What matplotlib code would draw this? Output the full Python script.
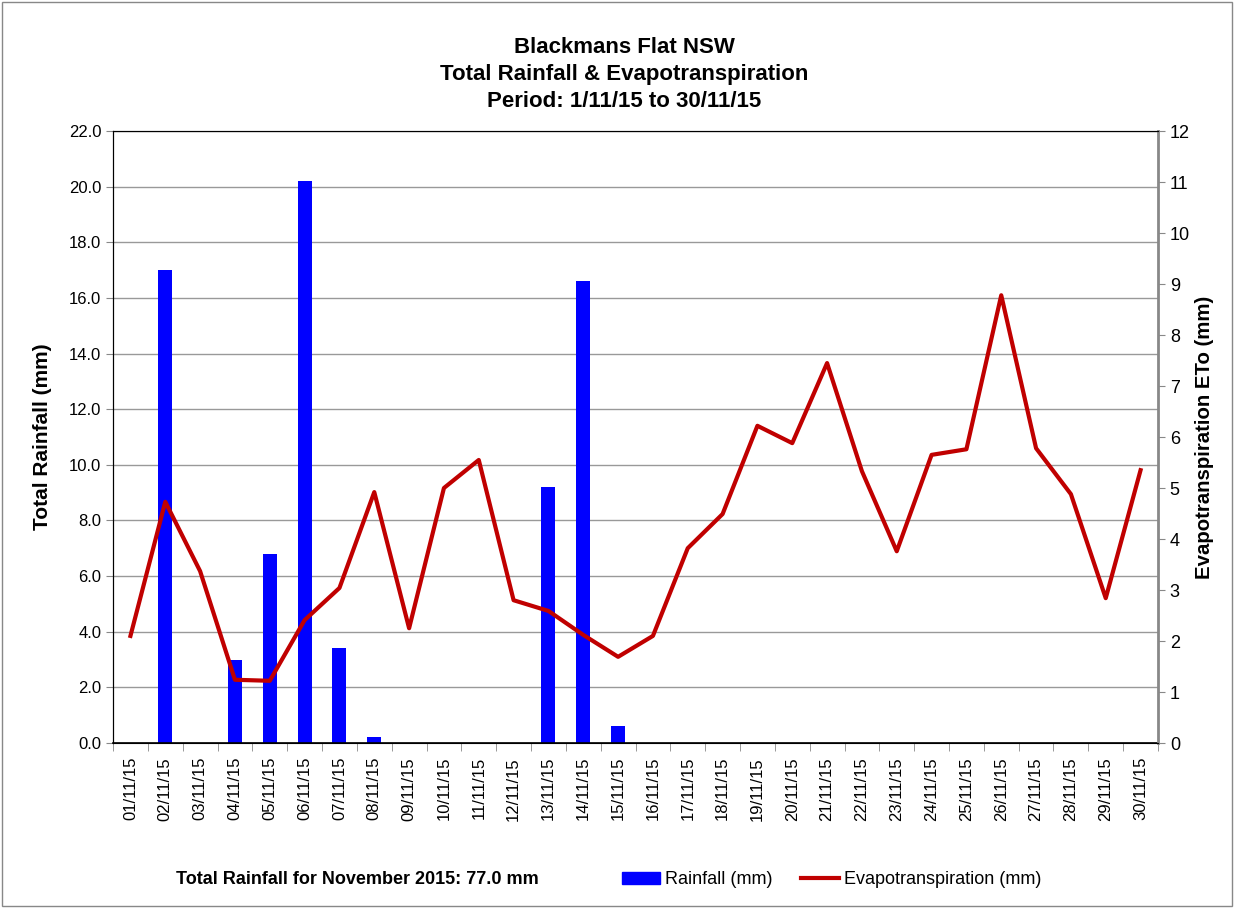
import matplotlib.pyplot as plt
from matplotlib.patches import Rectangle
from matplotlib.lines import Line2D

# daily data for November 2015
dates = ['%02d/11/15' % d for d in range(1, 31)]
rainfall = [0, 17.0, 0, 3.0, 6.8, 20.2, 3.4, 0.2, 0, 0,
            0, 0, 9.2, 16.6, 0.6, 0, 0, 0, 0, 0,
            0, 0, 0, 0, 0, 0, 0, 0, 0, 0]
eto = [2.10, 4.73, 3.37, 1.24, 1.22, 2.41, 3.04, 4.92, 2.25, 5.00,
       5.55, 2.80, 2.59, 2.12, 1.69, 2.10, 3.82, 4.49, 6.22, 5.88,
       7.45, 5.33, 3.76, 5.65, 5.76, 8.78, 5.78, 4.88, 2.84, 5.35]

plt.rcParams['font.family'] = ['Liberation Sans', 'DejaVu Sans']

fig = plt.figure(figsize=(12.34, 9.08), dpi=100)
fig.patches.append(Rectangle((0.002, 0.002), 0.996, 0.996, transform=fig.transFigure,
                             fill=False, edgecolor='#888888', linewidth=1))

ax = fig.add_axes([0.0916, 0.1817, 0.8468, 0.674])
x = list(range(len(dates)))

# rainfall bars on the left axis
ax.bar(x, rainfall, width=0.4, color='#0000ff', zorder=2)
ax.set_ylim(0, 22)
ax.set_yticks([i * 2.0 for i in range(12)])
ax.set_yticklabels(['%.1f' % (i * 2.0) for i in range(12)], fontsize=12)
ax.set_xlim(-0.5, len(dates) - 0.5)
ax.grid(axis='y', color='#999999', linewidth=1, zorder=0)
ax.set_axisbelow(True)
ax.set_ylabel('Total Rainfall (mm)', fontsize=15, fontweight='bold', labelpad=12)

# x ticks: labels at centres, tick marks between days
ax.set_xticks(x)
ax.set_xticklabels(dates, rotation=90, fontsize=12)
ax.tick_params(axis='x', which='major', length=0, pad=10)
ax.set_xticks([i + 0.5 for i in range(-1, len(dates))], minor=True)
ax.tick_params(axis='x', which='minor', length=6, color='#888888')
ax.tick_params(axis='y', length=5, color='#888888')

ax.spines['top'].set_color('#444444')
ax.spines['right'].set_color('#888888')
ax.spines['left'].set_color('black')
ax.spines['bottom'].set_color('black')
ax.spines['bottom'].set_linewidth(1.2)

# evapotranspiration on the right axis
ax2 = ax.twinx()
ax2.plot(x, eto, color='#c00000', linewidth=3, zorder=3)
ax2.set_ylim(0, 12)
ax2.set_yticks(range(13))
ax2.tick_params(axis='y', labelsize=13, length=5, color='#888888')
ax2.spines['right'].set_color('#888888')
ax2.spines['right'].set_linewidth(2)
ax2.set_ylabel('Evapotranspiration ETo (mm)', fontsize=14.7, fontweight='bold', labelpad=4)

fig.suptitle('Blackmans Flat NSW\nTotal Rainfall & Evapotranspiration\nPeriod: 1/11/15 to 30/11/15',
             fontsize=16, fontweight='bold', x=0.506, y=0.918, va='center', linespacing=1.38)

# footer: total and legend
fig.text(0.29, 0.031, 'Total Rainfall for November 2015: %.1f mm' % sum(rainfall),
         fontsize=13, fontweight='bold', ha='center', va='center')
handles = [Rectangle((0, 0), 1, 1, color='#0000ff'),
           Line2D([0], [0], color='#c00000', linewidth=3)]
fig.legend(handles, ['Rainfall (mm)', 'Evapotranspiration (mm)'], loc='center',
           bbox_to_anchor=(0.674, 0.031), ncol=2, frameon=False,
           prop={'size': 13}, handlelength=2.1,
           handletextpad=0.25, columnspacing=1.6)

fig.savefig('out.png', dpi=100)
